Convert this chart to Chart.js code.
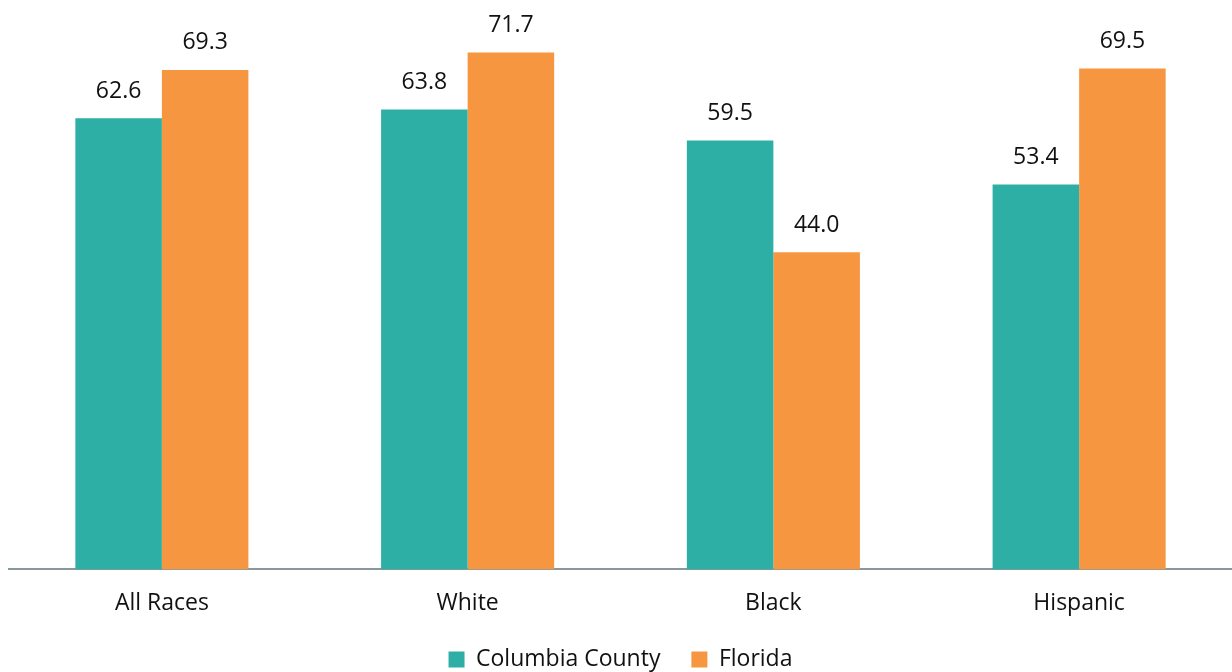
<!DOCTYPE html>
<html>
<head>
<meta charset="utf-8">
<script src="https://cdn.jsdelivr.net/npm/chart.js@4.4.0/dist/chart.umd.min.js"></script>
<style>
  html, body { margin: 0; padding: 0; background: #fff; }
  #wrap { width: 1232px; height: 672px; }
</style>
</head>
<body>
<div id="wrap"><canvas id="raceChart"></canvas></div>
<script>
var categories = ["All Races", "White", "Black", "Hispanic"];
var seriesNames = ["Columbia County", "Florida"];
var columbiaValues = [62.6, 63.8, 59.5, 53.4];
var floridaValues = [69.3, 71.7, 44.0, 69.5];

var fontFamily = "'Open Sans', 'Noto Sans', sans-serif";

// values written above each bar
var barLabels = {
    id: 'barLabels',
    afterDatasetsDraw: function (chart) {
        var ctx = chart.ctx;
        ctx.save();
        ctx.font = '23px ' + fontFamily;
        ctx.fillStyle = '#111';
        ctx.textAlign = 'center';
        ctx.textBaseline = 'middle';
        chart.data.datasets.forEach(function (ds, i) {
            chart.getDatasetMeta(i).data.forEach(function (bar, j) {
                ctx.fillText(ds.data[j].toFixed(1), bar.x, bar.y - 27);
            });
        });
        ctx.restore();
    }
};

new Chart(document.getElementById('raceChart'), {
    type: 'bar',
    data: {
        labels: categories,
        datasets: [{
            label: seriesNames[0],
            data: columbiaValues,
            backgroundColor: '#2EAFA5',
            categoryPercentage: 0.566,
            barPercentage: 1.0
        }, {
            label: seriesNames[1],
            data: floridaValues,
            backgroundColor: '#F79640',
            categoryPercentage: 0.566,
            barPercentage: 1.0
        }]
    },
    options: {
        responsive: true,
        maintainAspectRatio: false,
        animation: false,
        layout: { padding: { left: 9, right: 0, top: 0, bottom: -9 } },
        scales: {
            x: {
                grid: { display: false },
                border: { display: true, color: '#8A989C', width: 2 },
                ticks: { color: '#111', font: { size: 23, family: fontFamily }, padding: 12 }
            },
            y: {
                display: false,
                min: 0,
                max: 79
            }
        },
        plugins: {
            legend: {
                position: 'bottom',
                labels: {
                    color: '#111',
                    font: { size: 23, family: fontFamily },
                    boxWidth: 16,
                    boxHeight: 16,
                    padding: 19,
                    generateLabels: function (chart) {
                        var items = Chart.defaults.plugins.legend.labels.generateLabels(chart);
                        items.forEach(function (it, k) {
                            if (k < items.length - 1) it.text = it.text + '  ';
                        });
                        return items;
                    }
                }
            },
            tooltip: { enabled: false }
        }
    },
    plugins: [barLabels]
});
</script>
</body>
</html>
